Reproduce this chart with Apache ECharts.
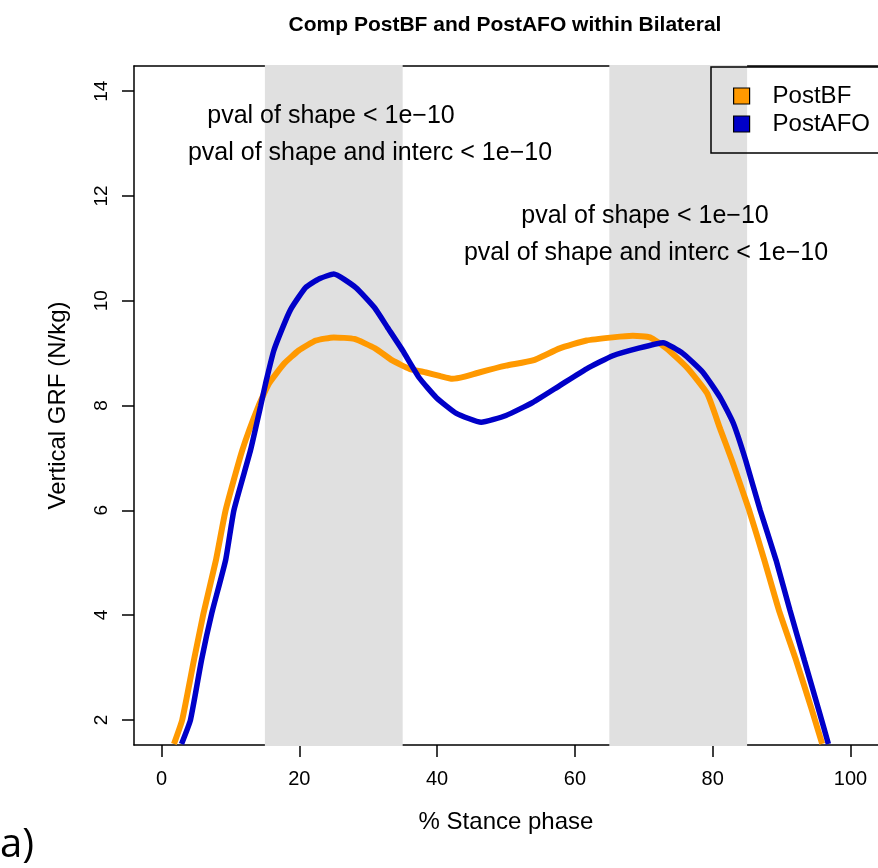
<!DOCTYPE html>
<html>
<head>
<meta charset="utf-8">
<script src="https://cdn.jsdelivr.net/npm/echarts@6/dist/echarts.min.js"></script>
<style>html,body{margin:0;padding:0;background:#fff;}#chart{width:878px;height:868px;}</style>
</head>
<body>
<div id="chart"></div>
<script>
// ---- data ----
const seriesNames = ['PostBF', 'PostAFO'];
const bfX = [1.8, 3.0, 4.7, 6.1, 7.9, 9.3, 11.7, 14.1, 15.6, 17.8, 19.9, 22.4, 25.0, 28.0, 31.0, 33.5, 36.0, 38.4, 40.5, 42.2, 44.0, 46.1, 50.0, 53.9, 57.8, 61.7, 65.5, 68.4, 70.9, 73.3, 76.3, 79.2, 81.1, 82.8, 85.3, 87.5, 89.6, 92.1, 94.4, 95.9];
const bfY = [1.54, 2.0, 3.14, 4.04, 5.05, 6.0, 7.14, 8.0, 8.42, 8.8, 9.05, 9.24, 9.3, 9.27, 9.09, 8.86, 8.7, 8.63, 8.56, 8.51, 8.55, 8.63, 8.76, 8.86, 9.09, 9.24, 9.3, 9.33, 9.3, 9.09, 8.72, 8.23, 7.55, 6.95, 6.0, 5.05, 4.1, 3.14, 2.19, 1.54];
const afoX = [2.9, 4.2, 5.8, 7.3, 9.3, 10.5, 12.9, 14.4, 15.1, 16.3, 18.0, 18.9, 20.9, 22.9, 25.0, 28.2, 30.9, 32.8, 35.0, 37.4, 39.9, 42.8, 46.4, 50.0, 53.9, 57.8, 61.7, 65.5, 69.4, 72.8, 75.7, 78.6, 81.1, 83.0, 84.8, 86.9, 89.2, 91.2, 93.3, 95.4, 96.8];
const afoY = [1.54, 2.0, 3.14, 4.04, 5.05, 6.0, 7.14, 8.0, 8.42, 9.05, 9.62, 9.87, 10.25, 10.42, 10.51, 10.25, 9.87, 9.49, 9.05, 8.53, 8.15, 7.85, 7.68, 7.81, 8.06, 8.38, 8.7, 8.95, 9.1, 9.2, 8.99, 8.63, 8.15, 7.66, 6.95, 6.0, 5.05, 4.1, 3.14, 2.19, 1.54];
const bandStart = [15, 65];
const bandEnd = [35, 85];
const xTicks = [0, 20, 40, 60, 80, 100];
const yTicks = [2, 4, 6, 8, 10, 12, 14];
const xRange = [-4, 104];
const yRange = [1.52, 14.48];
const annotationLines = ['pval of shape < 1e\u221210', 'pval of shape and interc < 1e\u221210'];

// ---- chart ----
const FONT = '"Liberation Sans", Arial, Helvetica, sans-serif';
const ORANGE = '#FF9900';
const BLUE = '#0000C8';
const bfData = bfX.map((x, i) => [x, bfY[i]]);
const afoData = afoX.map((x, i) => [x, afoY[i]]);
const bandData = bandStart.map((s, i) => [s, bandEnd[i]]);
const AXIS_LINE = {show: true, onZero: false, lineStyle: {color: '#000', width: 1.5}};

const chart = echarts.init(document.getElementById('chart'), null, {renderer: 'canvas'});
const option = {
  animation: false,
  backgroundColor: '#ffffff',
  grid: {
    left: 134, top: 66, width: 745, height: 679,
    show: false
  },
  legend: {
    data: seriesNames,
    orient: 'vertical',
    left: 711, top: 67,
    padding: [17, 4, 17, 22],
    itemGap: 4, itemWidth: 16, itemHeight: 16,
    icon: 'rect',
    borderWidth: 0,
    backgroundColor: 'transparent',
    itemStyle: {borderColor: '#000', borderWidth: 1.2},
    textStyle: {fontSize: 24, color: '#000', fontFamily: FONT, lineHeight: 24, padding: [0, 0, 0, 18]}
  },
  xAxis: [
    {
      type: 'value', min: xRange[0], max: xRange[1], position: 'bottom',
      splitLine: {show: false},
      axisLine: AXIS_LINE,
      axisTick: {show: true, length: 12, inside: false, lineStyle: {color: '#000', width: 1.5}, customValues: xTicks},
      axisLabel: {customValues: xTicks, fontSize: 20, color: '#000', margin: 24, fontFamily: FONT},
      name: '% Stance phase', nameLocation: 'middle', nameGap: 65,
      nameTextStyle: {fontSize: 24, color: '#000', fontFamily: FONT}
    },
    {
      type: 'value', min: xRange[0], max: xRange[1], position: 'top',
      splitLine: {show: false},
      axisLine: AXIS_LINE,
      axisTick: {show: false},
      axisLabel: {show: false}
    }
  ],
  yAxis: {
    type: 'value', min: yRange[0], max: yRange[1],
    splitLine: {show: false},
    axisLine: AXIS_LINE,
    axisTick: {show: true, length: 12, inside: false, lineStyle: {color: '#000', width: 1.5}, customValues: yTicks},
    axisLabel: {customValues: yTicks, fontSize: 19, color: '#000', margin: 23, rotate: 90, fontFamily: FONT},
    name: 'Vertical GRF (N/kg)', nameLocation: 'middle', nameGap: 64,
    nameTextStyle: {fontSize: 24, color: '#000', fontFamily: FONT}
  },
  series: [
    {
      type: 'custom',
      silent: true,
      z: 1,
      data: bandData,
      encode: {x: [0, 1]},
      renderItem: function (params, api) {
        const p0 = api.coord([api.value(0), 14.5]);
        const p1 = api.coord([api.value(1), 1.5]);
        return {
          type: 'rect',
          shape: {x: p0[0], y: p0[1], width: p1[0] - p0[0], height: p1[1] - p0[1]},
          style: {fill: '#E0E0E0'}
        };
      }
    },
    {
      name: seriesNames[0], type: 'line', data: bfData, z: 2,
      showSymbol: false, smooth: 0.15,
      lineStyle: {color: ORANGE, width: 6},
      itemStyle: {color: ORANGE}
    },
    {
      name: seriesNames[1], type: 'line', data: afoData, z: 2,
      showSymbol: false, smooth: 0.15,
      lineStyle: {color: BLUE, width: 5.5},
      itemStyle: {color: BLUE}
    }
  ],
  graphic: [
    // legend frame (extends past the right edge, as in the reference)
    {type: 'rect', z: 10, silent: true, shape: {x: 711, y: 67, width: 200, height: 86}, style: {fill: 'none', stroke: '#000', lineWidth: 1.5}},
    {type: 'text', x: 505, y: 25, z: 10, style: {text: 'Comp PostBF and PostAFO within Bilateral', align: 'center', verticalAlign: 'middle', font: 'bold 21px ' + FONT, fill: '#000'}},
    {type: 'text', x: 331, y: 116, z: 10, style: {text: annotationLines[0], align: 'center', verticalAlign: 'middle', font: '25px ' + FONT, fill: '#000'}},
    {type: 'text', x: 370, y: 153, z: 10, style: {text: annotationLines[1], align: 'center', verticalAlign: 'middle', font: '25px ' + FONT, fill: '#000'}},
    {type: 'text', x: 645, y: 216, z: 10, style: {text: annotationLines[0], align: 'center', verticalAlign: 'middle', font: '25px ' + FONT, fill: '#000'}},
    {type: 'text', x: 646, y: 253, z: 10, style: {text: annotationLines[1], align: 'center', verticalAlign: 'middle', font: '25px ' + FONT, fill: '#000'}},
    {type: 'text', x: 0, y: 846, z: 10, style: {text: 'a)', align: 'left', verticalAlign: 'middle', font: '40px "Open Sans", Lato, sans-serif', fill: '#000'}}
  ]
};
chart.setOption(option);
</script>
</body>
</html>
